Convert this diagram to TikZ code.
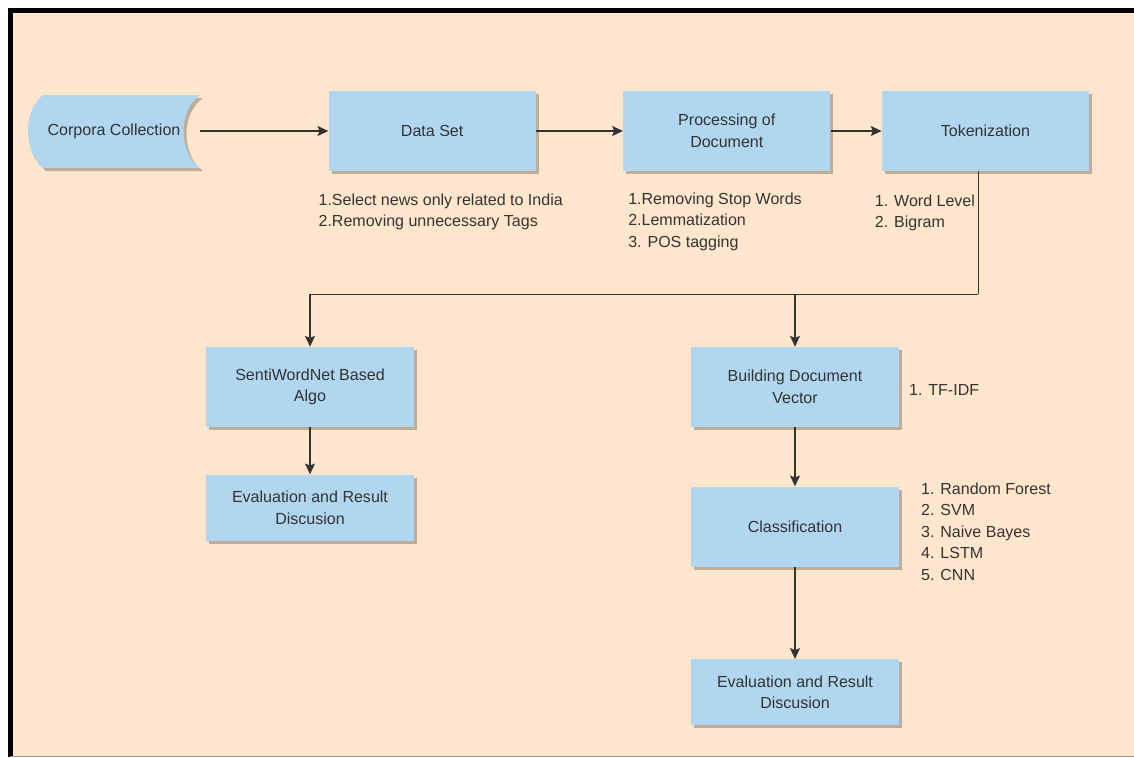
\documentclass[tikz,border=0pt]{standalone}
\usepackage{fontspec}
\setmainfont{Liberation Sans}
\usetikzlibrary{
  positioning,
  arrows.meta,
  shadows
}

\definecolor{pagepeach}{RGB}{255,230,204}
\definecolor{boxblue}{RGB}{177,214,240}
\definecolor{shadowtan}{RGB}{191,172,153}
\definecolor{inkgrey}{RGB}{51,51,51}

\begin{document}
\begin{tikzpicture}[
    x=0.025cm, y=-0.025cm,
    every node/.style={font=\fontsize{11.4}{15.3}\selectfont, text=inkgrey},
    box/.style={
        rectangle,
        fill=boxblue,
        align=center,
        minimum width=5.175cm,
        minimum height=2cm,
        drop shadow={shadow xshift=0.075cm, shadow yshift=-0.075cm, fill=shadowtan, opacity=1}
    },
    evalbox/.style={
        box,
        minimum height=1.65cm
    },
    note/.style={
        align=left,
        inner sep=0pt
    },
    arrow/.style={-{Stealth[length=0.27cm, width=0.25cm, inset=0.05cm]}, line width=0.9pt, draw=inkgrey},
    line/.style={line width=0.9pt, draw=inkgrey}
]

\useasboundingbox (0,0) rectangle (1134,758);
\fill[white] (0,0) rectangle (1134,758);

% Page frame
\fill[pagepeach] (10,10) rectangle (1134,757);
\draw[black, line width=3.6pt] (10.5,757) -- (10.5,10.5) -- (1134,10.5);
\draw[black!40, line width=0.8pt] (10,756.5) -- (1134,756.5);

% Stored data shape for the corpora
\coordinate (cc) at (114,131);
\begin{scope}[shift={(cc)}]
  \fill[shadowtan, xshift=0.075cm, yshift=-0.075cm] (-71,-36) -- (86,-36) .. controls (64,-21) and (64,21) .. (86,37) -- (-71,37) .. controls (-91,21) and (-91,-21) .. (-71,-36) -- cycle;
  \fill[boxblue] (-71,-36) -- (86,-36) .. controls (64,-21) and (64,21) .. (86,37) -- (-71,37) .. controls (-91,21) and (-91,-21) .. (-71,-36) -- cycle;
\end{scope}
\node[inner sep=0pt, minimum width=4.3cm, minimum height=1.825cm] (corpora) at (cc) {Corpora Collection};

% Top row
\node[box, right=3.2cm of corpora] (dataset) {Data Set};
\node[box, right=2.175cm of dataset] (process) {Processing of\\Document};
\node[box, right=1.275cm of process] (token) {Tokenization};

% Lexicon branch
\node[box] (senti) at (310,387) {SentiWordNet Based\\Algo};
\node[evalbox, below=1.175cm of senti] (evalleft) {Evaluation and Result\\Discusion};

% Machine learning branch
\node[box] (docvector) at (795,387) {Building Document\\Vector};
\node[box, below=1.475cm of docvector] (classify) {Classification};
\node[evalbox, below=2.3cm of classify] (evalright) {Evaluation and Result\\Discusion};

% Notes
\node[note, anchor=north west] (datanote) at ([xshift=-0.25cm, yshift=-0.55cm]dataset.south west) {1.Select news only related to India\\2.Removing unnecessary Tags};
\node[note, anchor=north west] (procnote) at ([xshift=0.125cm, yshift=-0.525cm]process.south west) {1.Removing Stop Words\\2.Lemmatization\\3. POS tagging};
\node[note, anchor=north west] (tokennote) at ([xshift=-0.175cm, yshift=-0.575cm]token.south west) {1. Word Level\\2. Bigram};
\node[note, right=0.25cm of docvector, yshift=-0.075cm] (vectornote) {1. TF-IDF};
\node[note, right=0.55cm of classify, yshift=-0.125cm] (classnote) {1. Random Forest\\2. SVM\\3. Naive Bayes\\4. LSTM\\5. CNN};

% Arrows
\coordinate[below=3.075cm of token.south, xshift=-0.175cm] (split);
\draw[arrow] (corpora) -- (dataset);
\draw[arrow] (dataset) -- (process);
\draw[arrow] (process) -- (token);
\draw[line] (split |- token.south) -- (split);
\draw[arrow] (split) -| (senti);
\draw[arrow] (split -| docvector) -- (docvector);
\draw[arrow] (senti) -- (evalleft);
\draw[arrow] (docvector) -- (classify);
\draw[arrow] (classify) -- (evalright);

\end{tikzpicture}
\end{document}
